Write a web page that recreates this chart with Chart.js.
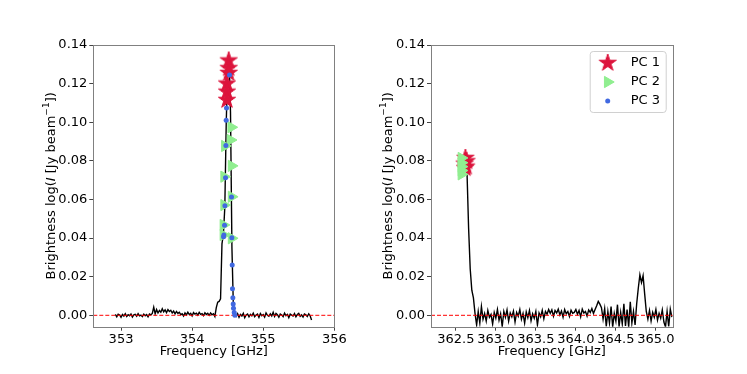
<!DOCTYPE html>
<html lang="en">
<head>
<meta charset="UTF-8">
<title>Brightness spectra</title>
<script src="https://cdn.jsdelivr.net/npm/chart.js"></script>
<style>
  body { margin: 0; background: #fff; }
  #wrap { position: relative; width: 747px; height: 374px; }
  canvas { position: absolute; top: 0; }
  #left { left: 0; }
  #right { left: 340px; }
</style>
</head>
<body>
<div id="wrap">
  <canvas id="left" width="373" height="374"></canvas>
  <canvas id="right" width="407" height="374"></canvas>
</div>
<script>
Chart.defaults.font.family = "'DejaVu Sans', sans-serif";
Chart.defaults.font.size = 13;
Chart.defaults.color = '#000';

// spectra, one value per 0.02 GHz channel
const leftStart = 352.92, leftStep = 0.02;
const leftFlux = [
  0.0005, -0.0008, 0.0006, 0.0002, -0.0010, 0.0004, -0.0004, 0.0008, -0.0006, 0.0003,
  -0.0002, 0.0007, -0.0009, 0.0002, 0.0005, -0.0005, 0.0009, -0.0003, 0.0001, -0.0007,
  0.0006, -0.0002, 0.0004, -0.0008, 0.0007, 0.0002,
  0.0010, 0.0042, 0.0008,
  0.0030, 0.0012, 0.0025, 0.0016, 0.0034, 0.0018, 0.0028, 0.0014, 0.0030, 0.0020,
  0.0026, 0.0012, 0.0022, 0.0008, 0.0020, 0.0010, 0.0016, 0.0004,
  0.0008, -0.0004, 0.0012, 0.0002, 0.0016, 0.0004, 0.0010, -0.0003, 0.0014, 0.0006,
  0.0011, 0.0001, 0.0015, 0.0005, 0.0009, -0.0002, 0.0013, 0.0004, 0.0010, 0.0000,
  0.0012, 0.0003, 0.0008, -0.0006,
  0.0040, 0.0068, 0.0072, 0.0085, 0.0370, 0.0420, 0.0560, 0.1000, 0.1270, 0.1330,
  0.1050, 0.0350, 0.0050, 0.0000,
  -0.0006, 0.0008, -0.0010, 0.0004, -0.0004, 0.0010, -0.0012, 0.0002, 0.0007, -0.0008,
  0.0005, -0.0003, 0.0011, -0.0007, 0.0001, 0.0006, -0.0011, 0.0009, -0.0002, 0.0004,
  -0.0009, 0.0012, 0.0000, -0.0005, 0.0008, -0.0003, 0.0016, -0.0006, 0.0010, 0.0003,
  -0.0010, 0.0007, 0.0002, -0.0007, 0.0011, -0.0002, 0.0005, -0.0012, 0.0006, 0.0001,
  -0.0004, 0.0009, -0.0008, 0.0004, 0.0010, -0.0005, 0.0002, -0.0009, 0.0007, 0.0003,
  -0.0006, 0.0008, -0.0003, -0.0024
];

const rightStart = 362.64, rightStep = 0.02;
const rightFlux = [
  0.0740, 0.0450, 0.0240, 0.0130, 0.0090, 0.0010,
  -0.0050, 0.0020, -0.0040, 0.0045, -0.0020, 0.0010, -0.0030, 0.0025, -0.0010, 0.0005,
  -0.0045, 0.0015, -0.0015, 0.0030, -0.0025, 0.0008, -0.0058, 0.0020, -0.0010, 0.0028,
  -0.0030, 0.0012, -0.0008, 0.0022, -0.0035, 0.0015, -0.0005, 0.0030, -0.0020, 0.0010,
  -0.0040, 0.0018, -0.0012, 0.0025, -0.0028, 0.0008, -0.0015, 0.0020, -0.0050, 0.0012,
  -0.0008, 0.0026, -0.0018,
  0.0020, 0.0005, 0.0030, 0.0010, 0.0028, -0.0005, 0.0025, 0.0012, 0.0032, 0.0002,
  0.0022, -0.0010, 0.0030, 0.0008, 0.0020, -0.0006, 0.0026, 0.0010, 0.0015,
  0.0030, 0.0005, 0.0025, -0.0008, 0.0032, 0.0012, 0.0020, -0.0004, 0.0028, 0.0015,
  0.0035, 0.0010, 0.0030,
  0.0050, 0.0072, 0.0058, 0.0040,
  -0.0020, 0.0035, -0.0058, 0.0020, -0.0040, 0.0045, -0.0060, 0.0010, -0.0030, 0.0055,
  -0.0059, 0.0015, -0.0045, 0.0060, -0.0055, 0.0030, -0.0060, 0.0070, -0.0040, 0.0020,
  -0.0050,
  0.0060, 0.0140, 0.0210, 0.0170, 0.0205, 0.0110, 0.0020,
  -0.0020, 0.0025, -0.0030, 0.0015, -0.0010, 0.0030, -0.0025, 0.0010, -0.0015, 0.0028,
  -0.0035, -0.0060, 0.0020, -0.0058, 0.0032, -0.0010
];

// principal component points
const pc1LeftX = [354.515, 354.515, 354.515, 354.49, 354.49, 354.49];
const pc1LeftY = [0.132, 0.128, 0.1255, 0.120, 0.1158, 0.1115];
const pc2LeftX = [354.55, 354.54, 354.46, 354.555, 354.45, 354.555, 354.45, 354.44, 354.44, 354.555];
const pc2LeftY = [0.0974, 0.0908, 0.0877, 0.0774, 0.0718, 0.0614, 0.0571, 0.0468, 0.0416, 0.0399];
const pc3LeftX = [354.526, 354.484, 354.479, 354.475, 354.470, 354.461, 354.456, 354.447, 354.442,
                  354.554, 354.559, 354.564, 354.568, 354.573, 354.578, 354.582, 354.592, 354.601];
const pc3LeftY = [0.1245, 0.1074, 0.101, 0.0879, 0.0713, 0.0568, 0.0466, 0.0416, 0.0407,
                  0.0613, 0.0402, 0.0261, 0.0138, 0.0091, 0.0059, 0.0036, 0.0014, 0.0];

const pc1RightX = [362.62, 362.635, 362.61, 362.63, 362.615];
const pc1RightY = [0.0815, 0.0798, 0.0785, 0.077, 0.0762];
const pc2RightX = [362.57, 362.57, 362.57, 362.57, 362.57];
const pc2RightY = [0.0815, 0.079, 0.077, 0.075, 0.073];
const pc3RightX = [];
const pc3RightY = [];

// axes
const leftRange = [352.61, 356.0];
const rightRange = [362.19, 365.21];
const yRange = [-0.0059, 0.14];
const leftXTicks = [353, 354, 355, 356];
const rightXTicks = [362.5, 363.0, 363.5, 364.0, 364.5, 365.0];
const yTicks = [0, 0.02, 0.04, 0.06, 0.08, 0.10, 0.12, 0.14];
const legendLabels = ['PC 1', 'PC 2', 'PC 3'];

const red = '#dc143c', green = '#90ee90', blue = '#4169e1';

function makeStar(R, color) {
  const s = Math.ceil(2 * R + 2);
  const c = document.createElement('canvas');
  c.width = s; c.height = s;
  const g = c.getContext('2d');
  g.translate(s / 2, s / 2);
  g.beginPath();
  for (let k = 0; k < 10; k++) {
    const r = k % 2 ? R * 0.382 : R;
    const a = -Math.PI / 2 + k * Math.PI / 5;
    g.lineTo(r * Math.cos(a), r * Math.sin(a));
  }
  g.closePath();
  g.fillStyle = color; g.strokeStyle = color; g.lineWidth = 1;
  g.fill(); g.stroke();
  return c;
}
const starImg = makeStar(9, red);

const pts = (xs, ys) => xs.map((x, i) => ({ x: x, y: ys[i] }));
const channels = (start, step, flux) => flux.map((v, i) => ({ x: +(start + i * step).toFixed(3), y: v }));

function drawYTitle(chart) {
  const ctx = chart.ctx, a = chart.chartArea;
  const parts = [['Brightness log(', 'n'], ['I', 'i'], [' [Jy beam', 'n'], ['\u22121', 's'], ['])', 'n']];
  const fonts = { n: "13px 'DejaVu Sans'", i: "italic 13px 'DejaVu Sans'", s: "9px 'DejaVu Sans'" };
  ctx.save();
  ctx.translate(a.left - 42, (a.top + a.bottom) / 2);
  ctx.rotate(-Math.PI / 2);
  ctx.textBaseline = 'middle';
  ctx.textAlign = 'left';
  ctx.fillStyle = '#000';
  let total = 0;
  const widths = parts.map(p => { ctx.font = fonts[p[1]]; const w = ctx.measureText(p[0]).width; total += w; return w; });
  let x = -total / 2;
  parts.forEach((p, i) => {
    ctx.font = fonts[p[1]];
    ctx.fillText(p[0], x, p[1] === 's' ? -5 : 0);
    x += widths[i];
  });
  ctx.restore();
}

const framePlugin = {
  id: 'frame',
  afterDatasetsDraw(chart) {
    const ctx = chart.ctx, a = chart.chartArea;
    ctx.save();
    ctx.strokeStyle = '#808080';
    ctx.lineWidth = 1;
    ctx.strokeRect(Math.round(a.left) + 0.5, Math.round(a.top) + 0.5,
                   Math.round(a.right - a.left), Math.round(a.bottom - a.top));
    ctx.restore();
  },
  afterDraw(chart) { drawYTitle(chart); }
};

const legendPlugin = {
  id: 'pcLegend',
  afterDraw(chart) {
    const ctx = chart.ctx, a = chart.chartArea;
    const w = 76, h = 61;
    const x0 = a.right - 7 - w, y0 = a.top + 6;
    ctx.save();
    ctx.beginPath();
    ctx.roundRect(x0 + 0.5, y0 + 0.5, w, h, 3);
    ctx.fillStyle = 'rgba(255,255,255,0.8)';
    ctx.fill();
    ctx.strokeStyle = '#d0d0d0';
    ctx.lineWidth = 1;
    ctx.stroke();
    const rows = [y0 + 12, y0 + 31, y0 + 50];
    const mx = x0 + 18, tx = x0 + 41;
    ctx.drawImage(starImg, mx - starImg.width / 2, rows[0] - starImg.height / 2);
    const r = 6.5;
    ctx.beginPath();
    ctx.moveTo(mx + r, rows[1]);
    ctx.lineTo(mx - r / 2, rows[1] - r * 0.866);
    ctx.lineTo(mx - r / 2, rows[1] + r * 0.866);
    ctx.closePath();
    ctx.fillStyle = green; ctx.strokeStyle = green;
    ctx.fill(); ctx.stroke();
    ctx.beginPath();
    ctx.arc(mx, rows[2], 2.5, 0, Math.PI * 2);
    ctx.fillStyle = blue; ctx.fill();
    ctx.fillStyle = '#000';
    ctx.font = "13px 'DejaVu Sans'";
    ctx.textBaseline = 'middle';
    legendLabels.forEach((t, i) => ctx.fillText(t, tx, rows[i]));
    ctx.restore();
  }
};

function makeChart(id, p) {
  const datasets = [
    { label: 'spectrum', data: p.spectrum, showLine: true, borderColor: '#000', borderWidth: 1.4,
      pointRadius: 0, order: 6 },
    { label: 'zero', data: [{ x: p.xRange[0], y: 0 }, { x: p.xRange[1], y: 0 }], showLine: true,
      borderColor: 'red', borderWidth: 1, borderDash: [4, 2], pointRadius: 0, order: 5 },
    { label: legendLabels[0], data: p.pc1, pointStyle: starImg, pointRadius: 9, order: 3 },
    { label: legendLabels[1], data: p.pc2, pointStyle: 'triangle', pointRotation: 90, pointRadius: 6.5,
      backgroundColor: green, borderColor: green, borderWidth: 1, order: 2 },
    { label: legendLabels[2], data: p.pc3, pointStyle: 'circle', pointRadius: 2.5,
      backgroundColor: blue, borderColor: blue, borderWidth: 0, order: 1 }
  ];
  return new Chart(document.getElementById(id), {
    type: 'scatter',
    data: { datasets: datasets },
    plugins: p.legend ? [framePlugin, legendPlugin] : [framePlugin],
    options: {
      responsive: false,
      animation: false,
      events: [],
      layout: { padding: { left: 0, top: 45, right: p.padRight, bottom: 0 } },
      plugins: { legend: { display: false }, tooltip: { enabled: false } },
      scales: {
        x: {
          type: 'linear', min: p.xRange[0], max: p.xRange[1],
          afterFit: s => { s.height = 47.3; },
          afterBuildTicks: s => { s.ticks = p.xTicks.map(v => ({ value: v })); },
          ticks: { padding: 1, callback: v => v.toFixed(p.xDigits) },
          grid: { drawOnChartArea: false, drawTicks: true, tickLength: 4, color: '#444' },
          border: { display: false },
          title: { display: true, text: 'Frequency [GHz]', font: { size: 13 }, padding: { top: 0, bottom: 15 } }
        },
        y: {
          type: 'linear', min: yRange[0], max: yRange[1],
          afterFit: s => { s.width = p.yWidth; },
          afterBuildTicks: s => { s.ticks = yTicks.map(v => ({ value: v })); },
          ticks: { padding: 2, callback: v => v.toFixed(2) },
          grid: { drawOnChartArea: false, drawTicks: true, tickLength: 4, color: '#444' },
          border: { display: false }
        }
      }
    }
  });
}

makeChart('left', {
  spectrum: channels(leftStart, leftStep, leftFlux),
  pc1: pts(pc1LeftX, pc1LeftY), pc2: pts(pc2LeftX, pc2LeftY), pc3: pts(pc3LeftX, pc3LeftY),
  xRange: leftRange, xTicks: leftXTicks, xDigits: 0,
  yWidth: 93.3, padRight: 38.7, legend: false
});

makeChart('right', {
  spectrum: channels(rightStart, rightStep, rightFlux),
  pc1: pts(pc1RightX, pc1RightY), pc2: pts(pc2RightX, pc2RightY), pc3: pts(pc3RightX, pc3RightY),
  xRange: rightRange, xTicks: rightXTicks, xDigits: 1,
  yWidth: 91, padRight: 74.3, legend: true
});
</script>
</body>
</html>
